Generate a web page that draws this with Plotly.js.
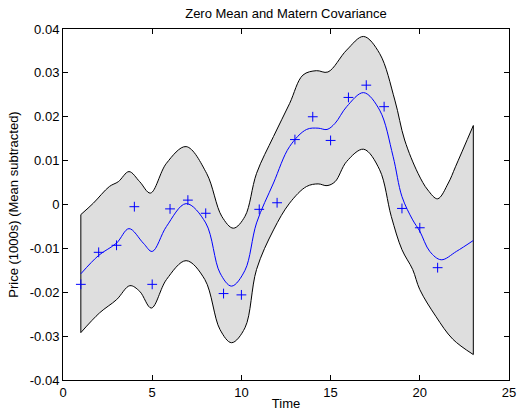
<!DOCTYPE html>
<html>
<head>
<meta charset="utf-8">
<script src="https://cdn.plot.ly/plotly-3.0.1.min.js"></script>
<style>
  html, body { margin: 0; padding: 0; background: #fff; }
  #chart { width: 518px; height: 413px; }
</style>
</head>
<body>
<div id="chart"></div>
<script>
// Observed prices (mean subtracted), one per time step
const obsTime  = [1, 2, 3, 4, 5, 6, 7, 8, 9, 10, 11, 12, 13, 14, 15, 16, 17, 18, 19, 20, 21];
const obsPrice = [-0.0182, -0.0109, -0.0093, -0.0005, -0.0182, -0.0010, 0.0010, -0.0020,
                  -0.0203, -0.0206, -0.0011, 0.0004, 0.0148, 0.0200, 0.0146, 0.0244,
                  0.0272, 0.0223, -0.0009, -0.0053, -0.0144];

// Posterior mean
const meanTime = [1.0, 2.0, 3.0, 3.7, 4.5, 5.0, 5.8, 6.9, 8.0, 8.8, 9.45, 10.2, 10.85, 11.8,
                  12.7, 13.65, 14.3, 14.8, 15.25, 15.9, 16.85, 17.75, 18.5, 19.0, 19.6,
                  20.0, 20.56, 21.2, 22.05, 23.0];
const meanPrice = [-0.0158, -0.0116, -0.0088, -0.0055, -0.0088, -0.0107, -0.0050, 0.0002,
                   -0.0042, -0.0156, -0.0186, -0.0150, -0.0042, 0.0049, 0.0132, 0.0171,
                   0.0174, 0.0171, 0.0185, 0.0223, 0.0255, 0.0215, 0.0110, 0.0018, -0.0035,
                   -0.0061, -0.0107, -0.0126, -0.0107, -0.0082];

// Upper edge of the confidence band
const upperTime = [1.0, 1.7, 2.6, 3.1, 3.7, 4.3, 4.9, 5.8, 6.9, 8.05, 8.9, 9.55, 10.2, 10.85,
                   11.8, 12.7, 13.45, 14.2, 14.85, 15.9, 16.85, 17.75, 18.6, 19.15, 19.9,
                   20.45, 21.0, 21.6, 22.0, 23.0];
const upperPrice = [-0.0023, 0.0003, 0.0041, 0.0052, 0.0075, 0.0052, 0.0026, 0.0094, 0.0132,
                    0.0071, -0.0027, -0.0054, -0.0027, 0.0071, 0.0155, 0.0230, 0.0295, 0.0305,
                    0.0302, 0.0352, 0.0383, 0.0344, 0.0238, 0.0147, 0.0071, 0.0033, 0.0013,
                    0.0049, 0.0086, 0.0180];

// Lower edge of the confidence band
const lowerTime = [1.0, 2.05, 3.0, 3.75, 4.3, 4.95, 5.8, 6.9, 7.95, 8.8, 9.45, 10.2, 10.85,
                   11.8, 12.7, 13.65, 14.3, 14.8, 15.25, 15.9, 16.85, 17.75, 18.4, 19.0, 19.6,
                   20.0, 20.9, 21.85, 23.0];
const lowerPrice = [-0.0292, -0.0247, -0.0217, -0.0185, -0.0198, -0.0236, -0.0171, -0.0128,
                    -0.0171, -0.0285, -0.0315, -0.0281, -0.0148, -0.0058, 0.0003, 0.0041,
                    0.0047, 0.0043, 0.0052, 0.0098, 0.0126, 0.0079, -0.0027, -0.0103, -0.0148,
                    -0.0194, -0.0255, -0.0307, -0.0342];

// Axis ticks
const xTickVals = [0, 5, 10, 15, 20, 25];
const yTickVals = [-0.04, -0.03, -0.02, -0.01, 0, 0.01, 0.02, 0.03, 0.04];
const yTickText = ['-0.04', '-0.03', '-0.02', '-0.01', '0', '0.01', '0.02', '0.03', '0.04'];

const edge = { color: '#000000', width: 1 };
const lastU = upperTime.length - 1;
const lastL = lowerTime.length - 1;

const traces = [
  { // upper edge
    x: upperTime, y: upperPrice, type: 'scatter', mode: 'lines',
    line: Object.assign({ shape: 'spline', smoothing: 1 }, edge),
    hoverinfo: 'skip', showlegend: false
  },
  { // lower edge, band filled up to the upper edge
    x: lowerTime, y: lowerPrice, type: 'scatter', mode: 'lines',
    line: Object.assign({ shape: 'spline', smoothing: 1 }, edge),
    fill: 'tonexty', fillcolor: '#dedede',
    hoverinfo: 'skip', showlegend: false
  },
  { // closing edge at the start
    x: [upperTime[0], lowerTime[0]], y: [upperPrice[0], lowerPrice[0]],
    type: 'scatter', mode: 'lines', line: edge, hoverinfo: 'skip', showlegend: false
  },
  { // closing edge at the end
    x: [upperTime[lastU], lowerTime[lastL]], y: [upperPrice[lastU], lowerPrice[lastL]],
    type: 'scatter', mode: 'lines', line: edge, hoverinfo: 'skip', showlegend: false
  },
  { // posterior mean
    x: meanTime, y: meanPrice, type: 'scatter', mode: 'lines',
    line: { color: '#0000ff', width: 1, shape: 'spline', smoothing: 1 },
    showlegend: false
  },
  { // observations
    x: obsTime, y: obsPrice, type: 'scatter', mode: 'markers',
    marker: { symbol: 'cross-thin-open', size: 7, color: '#0000ff',
              line: { color: '#0000ff', width: 1 } },
    showlegend: false
  }
];

const axisFont = { family: 'Liberation Sans, Arial, sans-serif', size: 13, color: '#000' };

const layout = {
  width: 518, height: 413,
  margin: { l: 63, r: 9, t: 29, b: 33, pad: 0 },
  paper_bgcolor: '#ffffff', plot_bgcolor: '#ffffff',
  font: axisFont,
  title: {
    text: 'Zero Mean and Matern Covariance',
    font: { family: 'Liberation Sans, Arial, sans-serif', size: 13, color: '#000' },
    xref: 'paper', x: 0.5, xanchor: 'center',
    yref: 'container', y: 1 - 13 / 413, yanchor: 'middle'
  },
  xaxis: {
    range: [0, 25], tickvals: xTickVals, ticks: 'inside', ticklen: 5, tickwidth: 1,
    tickcolor: '#000', showline: true, linecolor: '#000', linewidth: 1, mirror: 'allticks',
    showgrid: false, zeroline: false, tickfont: axisFont, automargin: false,
    title: { text: 'Time', font: axisFont, standoff: 0 }
  },
  yaxis: {
    range: [-0.04, 0.04], tickvals: yTickVals, ticktext: yTickText, ticks: 'inside',
    ticklen: 5, tickwidth: 1, tickcolor: '#000', showline: true, linecolor: '#000',
    linewidth: 1, mirror: 'allticks', showgrid: false, zeroline: false,
    tickfont: axisFont, automargin: false,
    title: { text: 'Price (1000s) (Mean subtracted)', font: axisFont, standoff: 8 }
  }
};

Plotly.newPlot('chart', traces, layout, { staticPlot: true, displayModeBar: false });
</script>
</body>
</html>
